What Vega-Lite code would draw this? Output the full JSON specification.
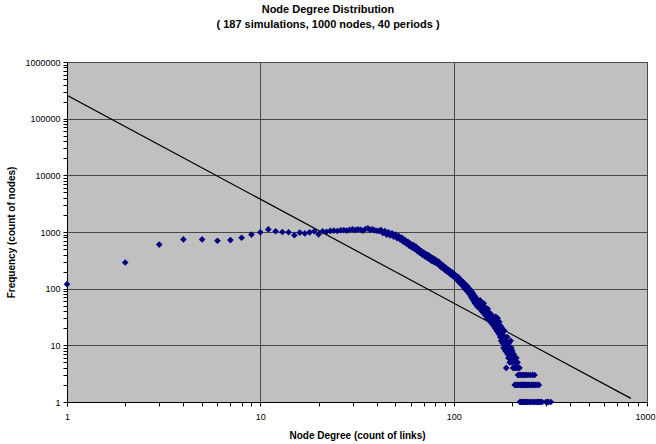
{
  "$schema": "https://vega.github.io/schema/vega-lite/v6.json",
  "width": 580,
  "height": 340,
  "autosize": {"type": "none"},
  "padding": {"left": 67, "top": 62, "right": 9, "bottom": 42},
  "background": "white",
  "title": {
    "text": ["Node Degree Distribution", "( 187 simulations, 1000 nodes, 40 periods )"],
    "font": "Liberation Sans",
    "fontSize": 11,
    "fontWeight": "bold",
    "lineHeight": 15,
    "offset": 28,
    "dx": -29,
    "color": "black"
  },
  "config": {
    "view": {"fill": "#C0C0C0", "stroke": "#505050", "strokeWidth": 1},
    "axis": {
      "labelFont": "Liberation Sans",
      "labelFontSize": 9,
      "labelColor": "black",
      "titleFont": "Liberation Sans",
      "titleFontSize": 10,
      "titleFontWeight": "bold",
      "titleColor": "black",
      "domainColor": "black",
      "tickColor": "black",
      "gridColor": "#484848",
      "gridWidth": 1,
      "labelFlush": false,
      "labelOverlap": false
    }
  },
  "datasets": {
    "pts": [
      {"d":1,"f":120},{"d":2,"f":290},{"d":3,"f":600},{"d":4,"f":740},{"d":5,"f":740},{"d":6,"f":700},{"d":7,"f":720},{"d":8,"f":790},{"d":9,"f":900},{"d":10,"f":985},
      {"d":11,"f":1110},{"d":12,"f":1030},{"d":13,"f":1000},{"d":14,"f":990},{"d":15,"f":880},{"d":16,"f":975},{"d":17,"f":945},{"d":18,"f":985},{"d":19,"f":1030},{"d":20,"f":910},
      {"d":21,"f":1030},{"d":22,"f":1010},{"d":23,"f":1045},{"d":24,"f":1060},{"d":25,"f":1040},{"d":26,"f":1075},{"d":27,"f":1085},{"d":28,"f":1060},{"d":29,"f":1095},{"d":30,"f":1110},
      {"d":31,"f":1080},{"d":32,"f":1120},{"d":33,"f":1095},{"d":34,"f":1060},{"d":35,"f":1130},{"d":36,"f":1160},{"d":37,"f":1090},{"d":38,"f":1120},{"d":39,"f":1070},{"d":40,"f":1050},
      {"d":41,"f":1040},{"d":42,"f":1090},{"d":43,"f":960},{"d":44,"f":1040},{"d":45,"f":900},{"d":46,"f":990},{"d":47,"f":870},{"d":48,"f":950},{"d":49,"f":830},{"d":50,"f":900},
      {"d":51,"f":780},{"d":52,"f":850},{"d":53,"f":730},{"d":54,"f":790},{"d":55,"f":670},{"d":56,"f":720},{"d":57,"f":620},{"d":58,"f":670},{"d":59,"f":570},{"d":60,"f":620},
      {"d":61,"f":530},{"d":62,"f":590},{"d":63,"f":500},{"d":64,"f":545},{"d":65,"f":460},{"d":66,"f":500},{"d":67,"f":425},{"d":68,"f":460},{"d":69,"f":395},{"d":70,"f":435},
      {"d":71,"f":370},{"d":72,"f":410},{"d":73,"f":350},{"d":74,"f":390},{"d":75,"f":330},{"d":76,"f":365},{"d":77,"f":310},{"d":78,"f":345},{"d":79,"f":295},{"d":80,"f":330},
      {"d":81,"f":285},{"d":82,"f":310},{"d":83,"f":270},{"d":84,"f":295},{"d":85,"f":250},{"d":86,"f":272},{"d":87,"f":235},{"d":88,"f":258},{"d":89,"f":222},{"d":90,"f":240},
      {"d":91,"f":208},{"d":92,"f":228},{"d":93,"f":198},{"d":94,"f":215},{"d":95,"f":188},{"d":96,"f":205},{"d":97,"f":176},{"d":98,"f":195},{"d":99,"f":168},{"d":100,"f":185},
      {"d":101,"f":160},{"d":102,"f":172},{"d":103,"f":150},{"d":104,"f":165},{"d":105,"f":140},{"d":106,"f":158},{"d":107,"f":128},{"d":108,"f":145},{"d":109,"f":122},{"d":110,"f":138},
      {"d":111,"f":115},{"d":112,"f":130},{"d":113,"f":105},{"d":114,"f":122},{"d":115,"f":98},{"d":116,"f":115},{"d":117,"f":92},{"d":118,"f":108},{"d":119,"f":86},{"d":120,"f":100},
      {"d":121,"f":80},{"d":122,"f":95},{"d":123,"f":72},{"d":124,"f":88},{"d":125,"f":66},{"d":126,"f":82},{"d":127,"f":60},{"d":128,"f":75},{"d":129,"f":55},{"d":130,"f":70},
      {"d":131,"f":52},{"d":132,"f":64},{"d":133,"f":48},{"d":134,"f":60},{"d":135,"f":46},{"d":136,"f":56},{"d":137,"f":62},{"d":138,"f":44},{"d":139,"f":52},{"d":140,"f":40},
      {"d":141,"f":48},{"d":142,"f":38},{"d":143,"f":55},{"d":144,"f":42},{"d":145,"f":35},{"d":146,"f":46},{"d":147,"f":33},{"d":148,"f":40},{"d":149,"f":30},{"d":150,"f":44},
      {"d":151,"f":36},{"d":152,"f":28},{"d":153,"f":38},{"d":154,"f":32},{"d":155,"f":26},{"d":156,"f":35},{"d":157,"f":30},{"d":158,"f":24},{"d":159,"f":33},{"d":160,"f":28},
      {"d":161,"f":22},{"d":162,"f":30},{"d":163,"f":25},{"d":164,"f":20},{"d":165,"f":32},{"d":166,"f":27},{"d":167,"f":18},{"d":168,"f":24},{"d":169,"f":30},{"d":170,"f":21},
      {"d":171,"f":16},{"d":172,"f":26},{"d":173,"f":19},{"d":174,"f":14},{"d":175,"f":22},{"d":176,"f":12},{"d":177,"f":17},{"d":178,"f":20},{"d":179,"f":11},{"d":180,"f":15},
      {"d":181,"f":9},{"d":182,"f":13},{"d":183,"f":18},{"d":184,"f":10},{"d":185,"f":8},{"d":186,"f":12},{"d":187,"f":4},{"d":188,"f":9},{"d":189,"f":14},{"d":190,"f":7},
      {"d":191,"f":10},{"d":192,"f":6},{"d":193,"f":11},{"d":194,"f":8},{"d":195,"f":5},{"d":196,"f":7},{"d":197,"f":12},{"d":198,"f":6},{"d":199,"f":9},{"d":200,"f":5},
      {"d":201,"f":8},{"d":202,"f":6},{"d":203,"f":4},{"d":204,"f":7},{"d":205,"f":4},{"d":206,"f":6},{"d":207,"f":2},{"d":208,"f":5},{"d":209,"f":4},{"d":210,"f":2},
      {"d":211,"f":6},{"d":212,"f":4},{"d":213,"f":2},{"d":214,"f":5},{"d":215,"f":3},{"d":216,"f":4},{"d":217,"f":2},{"d":218,"f":3},{"d":219,"f":4},{"d":220,"f":1},
      {"d":221,"f":2},{"d":222,"f":3},{"d":223,"f":1},{"d":224,"f":2},{"d":225,"f":1},{"d":226,"f":3},{"d":227,"f":2},{"d":228,"f":1},{"d":229,"f":2},{"d":230,"f":3},
      {"d":231,"f":1},{"d":232,"f":2},{"d":233,"f":1},{"d":234,"f":3},{"d":235,"f":2},{"d":236,"f":1},{"d":237,"f":2},{"d":238,"f":3},{"d":239,"f":1},{"d":240,"f":2},
      {"d":241,"f":1},{"d":243,"f":3},{"d":244,"f":2},{"d":246,"f":1},{"d":247,"f":2},{"d":249,"f":1},{"d":250,"f":3},{"d":252,"f":2},{"d":254,"f":1},{"d":255,"f":2},
      {"d":256,"f":3},{"d":258,"f":1},{"d":260,"f":2},{"d":262,"f":3},{"d":263,"f":1},{"d":265,"f":2},{"d":267,"f":1},{"d":270,"f":2},{"d":272,"f":1},{"d":274,"f":1},
      {"d":276,"f":2},{"d":278,"f":1},{"d":282,"f":1},{"d":287,"f":1},{"d":300,"f":1},{"d":305,"f":1},{"d":310,"f":1},{"d":318,"f":1}
    ],
    "fit": [
      {"d": 1, "f": 259000},
      {"d": 825, "f": 1.16}
    ]
  },
  "layer": [
    {
      "data": {"name": "fit"},
      "mark": {"type": "line", "color": "black", "strokeWidth": 1.2, "clip": true},
      "encoding": {
        "x": {
          "field": "d", "type": "quantitative",
          "scale": {"type": "log", "domain": [1, 1000], "nice": false},
          "axis": {
            "title": "Node Degree (count of links)",
            "values": [1,2,3,4,5,6,7,8,9,10,20,30,40,50,60,70,80,90,100,200,300,400,500,600,700,800,900,1000],
            "labelExpr": "indexof([1,10,100,1000], datum.value) >= 0 ? '' + datum.value : ''",
            "labelOffset": {"condition": {"test": "datum.value === 1000", "value": -2}, "value": 0},
            "gridOpacity": {"condition": {"test": "indexof([1,10,100,1000], datum.value) >= 0", "value": 1}, "value": 0},
            "tickSize": 4,
            "labelPadding": 6,
            "titlePadding": 9
          }
        },
        "y": {
          "field": "f", "type": "quantitative",
          "scale": {"type": "log", "domain": [1, 1000000], "nice": false},
          "axis": {
            "title": "Frequency (count of nodes)",
            "values": [1,2,3,4,5,6,7,8,9,10,20,30,40,50,60,70,80,90,100,200,300,400,500,600,700,800,900,1000,2000,3000,4000,5000,6000,7000,8000,9000,10000,20000,30000,40000,50000,60000,70000,80000,90000,100000,200000,300000,400000,500000,600000,700000,800000,900000,1000000],
            "labelExpr": "indexof([1,10,100,1000,10000,100000,1000000], datum.value) >= 0 ? '' + datum.value : ''",
            "gridOpacity": {"condition": {"test": "indexof([1,10,100,1000,10000,100000,1000000], datum.value) >= 0", "value": 1}, "value": 0},
            "tickSize": 4,
            "labelPadding": 3,
            "titlePadding": 8
          }
        }
      }
    },
    {
      "data": {"name": "pts"},
      "mark": {"type": "point", "shape": "diamond", "filled": true, "size": 44, "color": "#000080", "opacity": 1},
      "encoding": {
        "x": {"field": "d", "type": "quantitative"},
        "y": {"field": "f", "type": "quantitative"}
      }
    }
  ]
}
